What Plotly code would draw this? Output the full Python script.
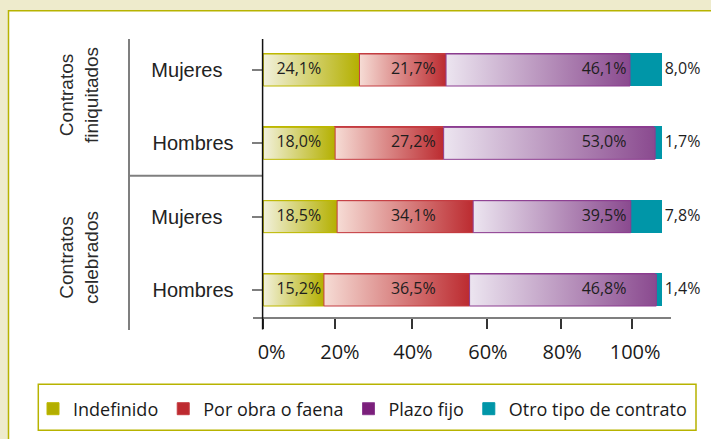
import plotly.graph_objects as go

# ---------------- data ----------------
GROUPS = ["Contratos<br>finiquitados", "Contratos<br>celebrados"]
ROW_LABELS = ["Mujeres", "Hombres", "Mujeres", "Hombres"]
SERIES = ["Indefinido", "Por obra o faena", "Plazo fijo", "Otro tipo de contrato"]
INDEFINIDO = [24.1, 18.0, 18.5, 15.2]
POR_OBRA = [21.7, 27.2, 34.1, 36.5]
PLAZO_FIJO = [46.1, 53.0, 39.5, 46.8]
OTRO = [8.0, 1.7, 7.8, 1.4]
X_TICK_LABELS = ["0%", "20%", "40%", "60%", "80%", "100%"]

# ---------------- style / layout constants ----------------
W, H = 711, 439
ML, MR, MT, MB = 253, 40, 39, 122
PW, PH = W - ML - MR, H - MT - MB
XR = [-2.58, 102.18]
YR = [-0.368, 3.423]
Y_POS = [3, 2, 1, 0]
BAR_W = 0.436
TICK_POS = [0, 17.97, 37.27, 56.14, 74.54, 92.48]
LABEL_POS = [2.1, 19.2, 37.5, 56.3, 74.9, 93.2]
TEXT_COL = [8.9, 37.6, 85.4, 100.6]

DARK = ["#b3ae00", "#bd2a30", "#7b1f7b", "#0096a8"]
LIGHT = ["#f2f1dc", "#f6dcd5", "#ece5f0", "#0096a8"]
GRAD_END = ["#b4b000", "#bc2b30", "#8a4a8f", "#0096a8"]
BORDER = ["#bdb800", "#c43c40", "#8c3d90", "#0096a8"]
OLIVE = "#b7b300"
BEIGE = "#eeebcc"
GRAY = "#7f7f7f"
LABEL_FONT = "Open Sans, Lato, sans-serif"
CAT_FONT = "Liberation Sans, Arial, sans-serif"


def pxx(p):
    return (p - ML) / PW


def pyy(p):
    return (H - MB - p) / PH


def fmt(v):
    return f"{v:.1f}".replace(".", ",") + "%"


values = [INDEFINIDO, POR_OBRA, PLAZO_FIJO, OTRO]

fig = go.Figure()

# stacked bars (data marks + legend)
for i, (name, vals) in enumerate(zip(SERIES, values)):
    fig.add_trace(go.Bar(
        x=vals, y=Y_POS, orientation="h", name=name, width=BAR_W,
        marker=dict(color=DARK[i], line=dict(color=BORDER[i], width=1)),
        hoverinfo="skip",
    ))

# gradient overlays computed from the same data
for j, yv in enumerate(Y_POS):
    left = 0.0
    for i, vals in enumerate(values):
        right = left + vals[j]
        if i < 3:
            h = BAR_W / 2
            fig.add_trace(go.Scatter(
                x=[left, right, right, left, left],
                y=[yv - h, yv - h, yv + h, yv + h, yv - h],
                mode="lines", fill="toself",
                fillgradient=dict(type="horizontal",
                                  colorscale=[[0, LIGHT[i]], [1, GRAD_END[i]]],
                                  start=left, stop=right),
                line=dict(color=BORDER[i], width=1),
                showlegend=False, hoverinfo="skip",
            ))
        left = right

# value labels
for i, vals in enumerate(values):
    fig.add_trace(go.Scatter(
        x=[TEXT_COL[i]] * len(vals), y=Y_POS, mode="text",
        text=[fmt(v) for v in vals],
        textposition="middle right" if i == 3 else "middle center",
        textfont=dict(family=LABEL_FONT, size=16, color="#1e1e1e"),
        showlegend=False, hoverinfo="skip", cliponaxis=False,
    ))

# invisible trace for the label axis
fig.add_trace(go.Scatter(x=[None], y=[None], xaxis="x2", showlegend=False, hoverinfo="skip"))

shapes = [
    # white panel
    dict(type="rect", xref="paper", yref="paper", x0=pxx(8.5), x1=pxx(740), y0=pyy(10.8), y1=pyy(470),
         line=dict(color=OLIVE, width=1.5), fillcolor="white", layer="below"),
    # group separators
    dict(type="line", xref="paper", yref="paper", x0=pxx(129), x1=pxx(129), y0=pyy(39), y1=pyy(330),
         line=dict(color=GRAY, width=2)),
    dict(type="line", xref="paper", yref="paper", x0=pxx(129), x1=pxx(262), y0=pyy(175.7), y1=pyy(175.7),
         line=dict(color=GRAY, width=2)),
    # vertical axis line
    dict(type="line", xref="paper", yref="paper", x0=pxx(262.6), x1=pxx(262.6), y0=pyy(39), y1=pyy(329.5),
         line=dict(color="#111111", width=1.5)),
    # legend frame
    dict(type="rect", xref="paper", yref="paper", x0=pxx(38.3), x1=pxx(696), y0=pyy(384.3), y1=pyy(430.3),
         line=dict(color=OLIVE, width=1.5), fillcolor="white", layer="below"),
]

annotations = [
    dict(text=GROUPS[0], xref="paper", yref="paper", x=pxx(79), y=pyy(95), textangle=-90,
         showarrow=False, xanchor="center", yanchor="middle",
         font=dict(family=CAT_FONT, size=19, color="#2a2a2a")),
    dict(text=GROUPS[1], xref="paper", yref="paper", x=pxx(79), y=pyy(258), textangle=-90,
         showarrow=False, xanchor="center", yanchor="middle",
         font=dict(family=CAT_FONT, size=19, color="#2a2a2a")),
]

nb = "\u00a0\u00a0"
ticktext_y = [lab + nb if lab == "Mujeres" else lab for lab in ROW_LABELS]

fig.update_layout(
    width=W, height=H, autosize=False,
    margin=dict(l=ML, r=MR, t=MT, b=MB, pad=0),
    paper_bgcolor=BEIGE, plot_bgcolor="rgba(0,0,0,0)",
    barmode="stack", bargap=0,
    shapes=shapes, annotations=annotations,
    showlegend=True,
    legend=dict(orientation="h", x=pxx(33), xanchor="left", y=pyy(409), yanchor="middle",
                bgcolor="rgba(0,0,0,0)", borderwidth=0,
                font=dict(family=LABEL_FONT, size=18, color="#1a1a1a"),
                traceorder="normal", itemclick=False, itemdoubleclick=False),
    xaxis=dict(range=XR, tickvals=TICK_POS, showticklabels=False, ticks="outside", ticklen=10,
               tickwidth=1.5, tickcolor="#333333", showline=True, linecolor=GRAY, linewidth=2,
               showgrid=False, zeroline=False, fixedrange=True),
    xaxis2=dict(range=XR, overlaying="x", anchor="y", side="bottom", tickvals=LABEL_POS,
                ticktext=X_TICK_LABELS, ticks="", showline=False, showgrid=False, zeroline=False,
                tickfont=dict(family=LABEL_FONT, size=20, color="#1a1a1a"), ticklabelstandoff=21,
                fixedrange=True),
    yaxis=dict(range=YR, anchor="free", position=pxx(262.6), tickvals=Y_POS, ticktext=ticktext_y,
               ticks="outside", ticklen=11, tickwidth=2, tickcolor=GRAY, showline=False,
               showgrid=False, zeroline=False, ticklabelstandoff=14,
               tickfont=dict(family=CAT_FONT, size=20, color="#222222"), fixedrange=True),
)

fig.write_html(
    "out.html",
    config={"displayModeBar": False},
    post_script="document.body.style.margin='0';document.body.style.overflow='hidden';"
                "document.body.style.background='" + BEIGE + "';",
)
